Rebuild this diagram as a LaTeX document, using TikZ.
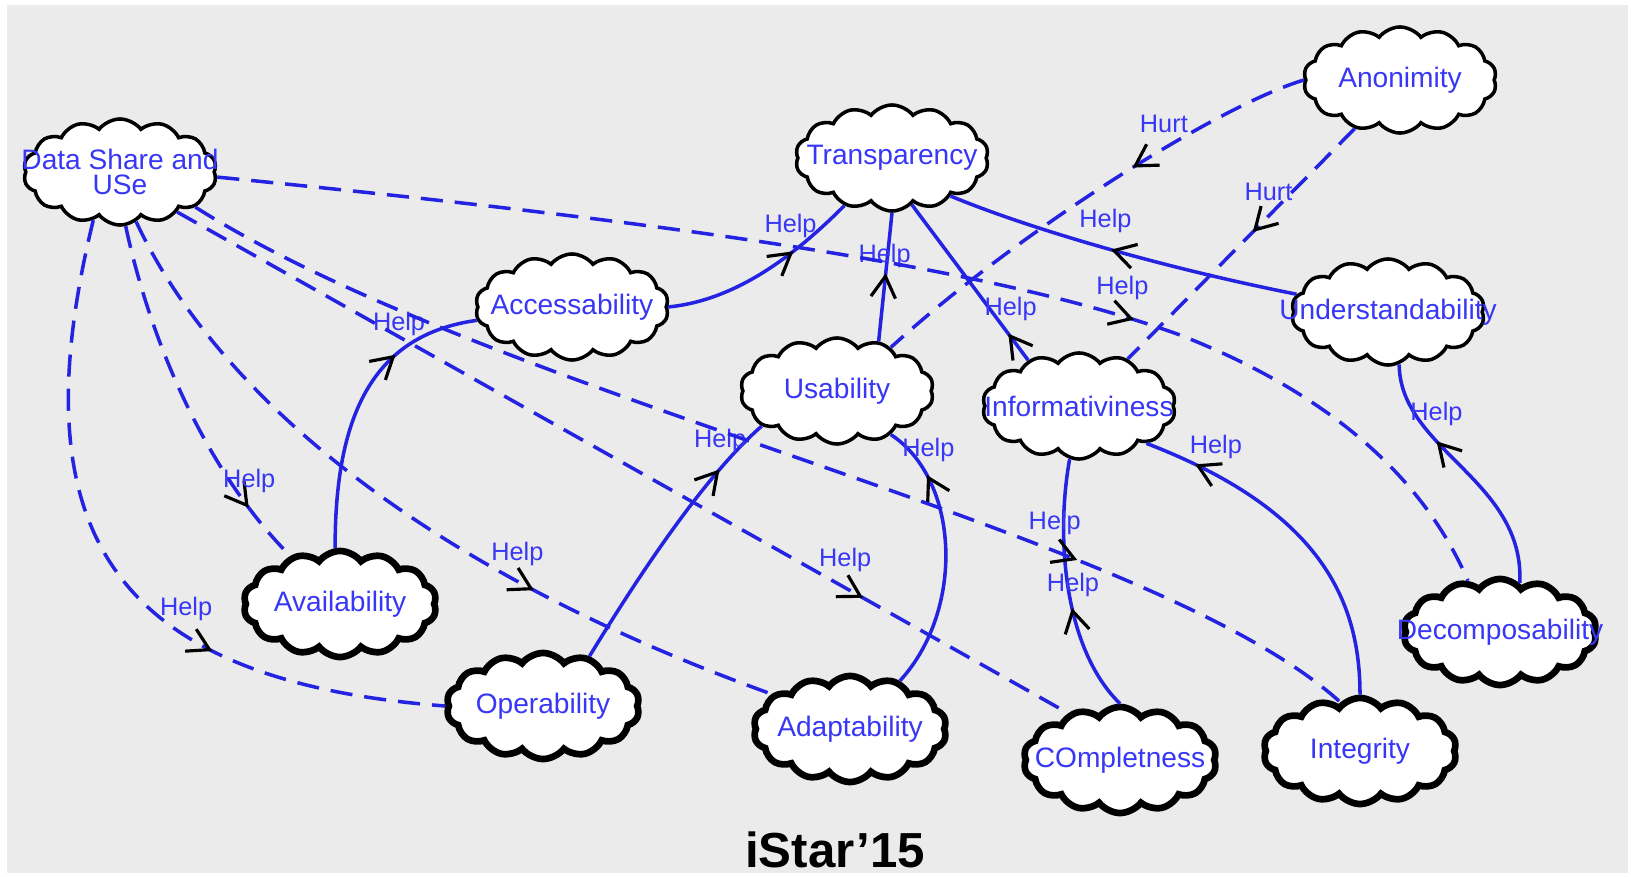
\documentclass[tikz,border=0pt]{standalone}
\usepackage{fontspec}
\setmainfont{Liberation Sans}
\usepackage{tikz}
\usetikzlibrary{shapes.symbols, arrows.meta, decorations.markings}
\definecolor{linkblue}{RGB}{35,35,225}
\definecolor{goalblue}{RGB}{55,55,245}
\definecolor{canvasgray}{RGB}{235,235,235}
\newcommand{\goal}[1]{\makebox[0pt]{#1}}

\begin{document}
\begin{tikzpicture}[x=0.01cm, y=-0.01cm,
  softgoal/.style={cloud, cloud puffs=14, cloud puff arc=105, cloud ignores aspect,
                   draw=black, line width=1pt, fill=white, minimum width=1.93cm,
                   minimum height=1.06cm, inner sep=0pt, text=goalblue,
                   font=\fontsize{8}{9}\selectfont},
  leafgoal/.style={softgoal, line width=1.9pt},
  sollink/.style={draw=linkblue, line width=1pt},
  dashlink/.style={sollink, dash pattern=on 6.3pt off 3.4pt},
  tipat/.style={postaction={decorate, decoration={markings, mark=at position #1 with
                {\arrow{Straight Barb[color=black, length=6pt, width=7pt, line width=0.9pt]}}}}},
  hlabel/.style={font=\fontsize{7.2}{8}\selectfont, text=goalblue, inner sep=0pt, above=4pt}
]
\useasboundingbox (0,0) rectangle (1631,876);
\fill[canvasgray] (7,5) rectangle (1628,873);

\node[softgoal] (dsu) at (120,172) {\goal{\shortstack{Data Share and\\[-1.6pt]USe}}};
\node[softgoal] (tra) at (892,158)  {\goal{Transparency}};
\node[softgoal] (ano) at (1400,80)  {\goal{Anonimity}};
\node[softgoal] (acc) at (572,307)  {\goal{Accessability}};
\node[softgoal] (und) at (1388,312) {\goal{Understandability}};
\node[softgoal] (usa) at (837,391)  {\goal{Usability}};
\node[softgoal] (inf) at (1079,406) {\goal{Informativiness}};
\node[leafgoal] (ava) at (340,604)  {\goal{Availability}};
\node[leafgoal] (dec) at (1500,632) {\goal{Decomposability}};
\node[leafgoal] (ope) at (543,706)  {\goal{Operability}};
\node[leafgoal] (ada) at (850,729)  {\goal{Adaptability}};
\node[leafgoal] (com) at (1120,760) {\goal{COmpletness}};
\node[leafgoal] (itg) at (1360,751) {\goal{Integrity}};

\draw[sollink, tipat=0.67] (acc.east) .. controls (740,300) and (800,250) .. node[hlabel, pos=0.64] (h1) {Help} (tra.225);
\draw[sollink, tipat=0.53] (usa.50) -- node[hlabel, pos=0.45] (h2) {Help} (tra.south);
\draw[sollink, tipat=0.17] (inf.138) -- node[hlabel, pos=0.15] (h3) {Help} (tra.293);
\draw[sollink, tipat=0.53] (und.169) .. controls (1150,265) and (1020,225) .. node[hlabel, pos=0.47] (h4) {Help} (tra.327);
\draw[sollink, tipat=0.7] (ava.95) .. controls (335,420) and (370,335) .. node[hlabel, pos=0.7] (h5) {Help} (acc.188);
\draw[sollink, tipat=0.79] (ope.47) .. controls (630,590) and (700,480) .. node[hlabel, pos=0.78] (h6) {Help} (usa.205);
\draw[sollink, tipat=0.8] (ada.44) .. controls (965,610) and (960,480) .. node[hlabel, pos=0.77] (h7) {Help} (usa.321);
\draw[sollink, tipat=0.42] (com.north) .. controls (1065,650) and (1055,540) .. node[hlabel, pos=0.42] (h8) {Help} (inf.260);
\draw[sollink, tipat=0.85] (itg.north) .. controls (1360,600) and (1320,510) .. node[hlabel, pos=0.85] (h9) {Help} (inf.331);
\draw[sollink, tipat=0.66] (dec.68) .. controls (1525,480) and (1400,450) .. node[hlabel, pos=0.64] (h10) {Help} (und.282);

\draw[dashlink, tipat=0.39] (ano.west) .. controls (1220,105) and (1020,230) .. node[hlabel, pos=0.39] (u1) {Hurt} (usa.39);
\draw[dashlink, tipat=0.45] (ano.227) -- node[hlabel, pos=0.38] (u2) {Hurt} (inf.44);
\draw[dashlink, tipat=0.68] (dsu.-3) .. controls (700,225) and (1000,270) .. node[hlabel, pos=0.9] (h11) {Help} (1180,335) .. controls (1320,390) and (1420,470) .. (dec.122);
\draw[dashlink, tipat=0.67] (dsu.241) .. controls (20,520) and (100,680) .. node[hlabel, pos=0.67] (h12) {Help} (ope.west);
\draw[dashlink, tipat=0.83] (dsu.276) .. controls (150,340) and (205,470) .. node[hlabel, pos=0.83] (h13) {Help} (ava.136);
\draw[dashlink, tipat=0.68] (dsu.288) .. controls (210,380) and (400,560) .. node[hlabel, pos=0.74] (h14) {Help} (ada.156);
\draw[dashlink, tipat=0.76] (dsu.335) .. controls (500,400) and (1150,530) .. node[hlabel, pos=0.69] (h15) {Help} (itg.112);
\draw[dashlink, tipat=0.77] (dsu.325) -- node[hlabel, pos=0.75] (h16) {Help} (com.138);

\node[font=\bfseries\fontsize{14}{16}\selectfont, inner sep=1pt] (venue) at (835,850) {iStar’15};
\end{tikzpicture}
\end{document}
